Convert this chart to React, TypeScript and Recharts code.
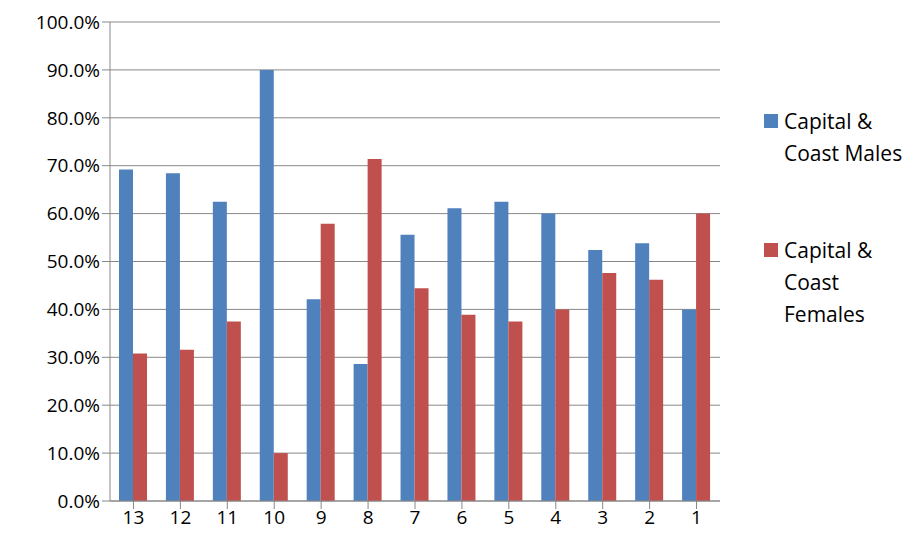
import React from 'react';
import { BarChart, Bar, XAxis, YAxis, CartesianGrid } from 'recharts';

const categories = ['13','12','11','10','9','8','7','6','5','4','3','2','1'];
const males = [69.2,68.4,62.5,90,42.1,28.6,55.6,61.1,62.5,60,52.4,53.8,40];
const females = [30.8,31.6,37.5,10,57.9,71.4,44.4,38.9,37.5,40,47.6,46.2,60];
const yTicks = [0,10,20,30,40,50,60,70,80,90,100];

const data = categories.map((c, i) => ({ c, m: males[i], f: females[i] }));
const font = 'Open Sans, Liberation Sans, sans-serif';

export default function App() {
  return (
    <div style={{ position: 'absolute', left: 0, top: 0, width: 918, height: 549, background: '#fff', fontFamily: font }}>
      <BarChart width={918} height={549} data={data} margin={{ top: 22, right: 198, left: 20, bottom: 0 }} barGap={0} barSize={14}>
        <CartesianGrid vertical={false} stroke="#888" strokeWidth={1} />
        <XAxis dataKey="c" height={48} stroke="#888" tick={{ fill: '#000', fontSize: 19, fontFamily: font }} tickLine={{ stroke: '#888' }} tickSize={8} />
        <YAxis width={90} domain={[0, 100]} ticks={yTicks} stroke="#888" tickFormatter={(v: number) => v.toFixed(1) + '%'} tick={{ fill: '#000', fontSize: 19, fontFamily: font }} tickSize={8} interval={0} />
        <Bar dataKey="m" fill="#4F81BD" isAnimationActive={false} />
        <Bar dataKey="f" fill="#C0504D" isAnimationActive={false} />
      </BarChart>
      <div style={{ position: 'absolute', left: 764, top: 114, width: 14, height: 14, background: '#4F81BD' }} />
      <div style={{ position: 'absolute', left: 784, top: 105, fontSize: 21, lineHeight: '32px' }}>Capital &amp;<br />Coast Males</div>
      <div style={{ position: 'absolute', left: 764, top: 243, width: 14, height: 14, background: '#C0504D' }} />
      <div style={{ position: 'absolute', left: 784, top: 234, fontSize: 21, lineHeight: '32px' }}>Capital &amp;<br />Coast<br />Females</div>
    </div>
  );
}
